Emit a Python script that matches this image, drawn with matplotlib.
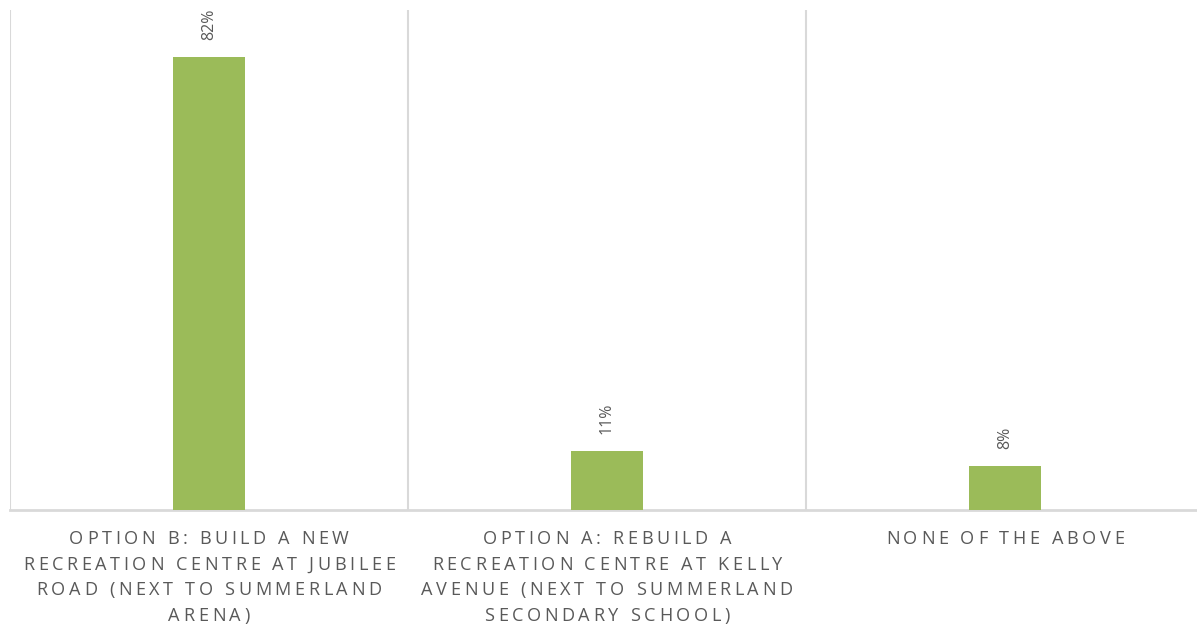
import numpy as np
import matplotlib
matplotlib.use('Agg')
import matplotlib.pyplot as plt
from matplotlib.font_manager import FontProperties, findfont, get_font

# Data
categories = ['OPTION B: BUILD A NEW\nRECREATION CENTRE AT JUBILEE\nROAD (NEXT TO SUMMERLAND\nARENA)',
              'OPTION A: REBUILD A\nRECREATION CENTRE AT KELLY\nAVENUE (NEXT TO SUMMERLAND\nSECONDARY SCHOOL)',
              'NONE OF THE ABOVE']
values = [82.0, 10.7, 8.0]

bar_color = '#9BBB59'
text_color = '#595959'
grid_color = '#D9D9D9'
family = 'Open Sans'

plt.rcParams['font.family'] = [family, 'DejaVu Sans']

W, H = 1197, 627
DPI = 100
fig = plt.figure(figsize=(W / DPI, H / DPI), dpi=DPI)
ax = fig.add_axes([10 / W, 117 / H, 1194 / W, 500 / H])

x = np.arange(len(values))
ax.bar(x, values, width=0.183, color=bar_color, zorder=3)

ax.set_xlim(-0.5, len(values) - 0.5)
ax.set_ylim(0, 90.5)

# vertical separators between categories
for b in np.arange(len(values) + 1) - 0.5:
    ax.axvline(b, color=grid_color, lw=1.5, zorder=1)

for s in ['top', 'right', 'left']:
    ax.spines[s].set_visible(False)
ax.spines['bottom'].set_color(grid_color)
ax.spines['bottom'].set_linewidth(2)
ax.set_yticks([])
ax.set_xticks([])

# category labels with Excel-like character spacing, drawn glyph by glyph
lab_size = 13.1       # pt
track = 3.6           # extra px between characters
first_base = 34       # px below the axis line
line_step = 25.7      # px

ft = get_font(findfont(FontProperties(family=family)))
ft.set_size(lab_size, DPI)


def advance(ch):
    g = ft.load_char(ord(ch))
    return g.linearHoriAdvance / 65536


for xi, label in zip(x, categories):
    for li, line in enumerate(label.split('\n')):
        adv = [advance(c) for c in line]
        width = sum(adv) + track * (len(line) - 1)
        pos = -width / 2
        for c, a in zip(line, adv):
            if c != ' ':
                ax.annotate(c, xy=(xi, 0), xycoords=('data', 'axes fraction'),
                            xytext=(pos, -(first_base + li * line_step)),
                            textcoords='offset pixels', ha='left', va='baseline',
                            fontsize=lab_size, color=text_color, annotation_clip=False)
            pos += a + track

# data labels
for xi, v in zip(x, values):
    ax.annotate(f'{v:.0f}%', (xi, v), xytext=(0, 12), textcoords='offset points',
                rotation=90, ha='center', va='bottom', color=text_color, fontsize=11.5)

fig.savefig('out.png', dpi=DPI, facecolor='white')
